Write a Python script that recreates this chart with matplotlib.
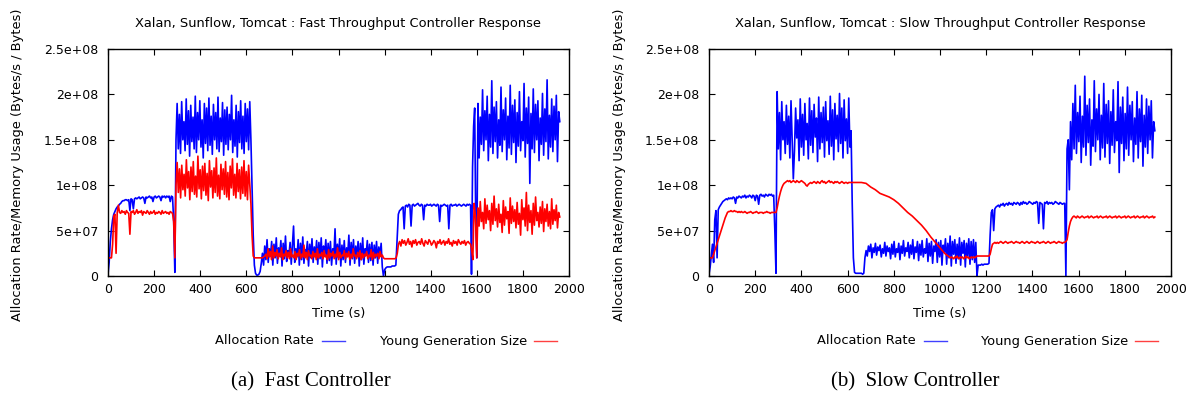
import numpy as np
import matplotlib
matplotlib.use("Agg")
import matplotlib.pyplot as plt
from matplotlib.lines import Line2D

plt.rcParams['font.family'] = ['DejaVu Sans']

# ---------------- data (values in units of 1e6 bytes or bytes/s) ----------------
# Each series is a list of (t_start, t_end, values) pieces.

# Fast controller - allocation rate
fast_alloc_warmup = [2,15,38,52,62,68,71,74,76,77,79,80,82,83,83,84,84,83,84,72,85,84,74,85,86,85,86,87,85,86,
                     87,86,80,87,86,87,88,86,87,82,87,88,86,87,88,87,83,88,87,88,86,88,87,88,82,88,87,60,4]
fast_alloc_xalan = [150,190,140,178,135,192,150,170,138,195,145,182,132,188,148,175,140,198,136,180,150,193,142,172,130,
                    190,146,185,138,196,144,176,134,189,150,180,140,197,137,174,148,191,133,183,145,186,139,178,150,199,
                    136,172,143,188,131,181,147,193,140,176,135,190,148,184,139,192]
fast_alloc_drop1 = [150,95,45,12,3,1,1,2,5,14]
fast_alloc_sunflow = [25,12,33,18,40,15,30,22,38,12,35,20,42,14,31,24,39,11,36,19,44,16,28,23,37,13,34,55,15,30,
                      21,40,12,36,18,43,14,29,25,38,11,35,20,41,15,32,22,39,13,37,19,42,10,33,24,40,14,36,17,38,
                      12,30,22,52,13,35,20,41,11,34,18,39,15,31,23,45,12,37,19,40,14,33,21,38,11,36,18,42,13,30,
                      24,39,15,35,17,37,12,34,20,38,14,32,22,36,10]
fast_alloc_gap = [0,7,9,10,10,10,10,11,11,11,12,40,68,72]
fast_alloc_tomcat = [73,75,76,52,77,78,76,79,78,55,78,79,77,78,79,80,78,77,79,78,62,78,77,79,78,78,79,77,78,79,
                     78,77,79,78,60,78,77,78,79,78,77,78,52,78,79,77,78,78,79,77,78,79,78,77,78,79,78,77,79,78,79,78]
fast_alloc_switch = [2,120,165,185,60,20]
fast_alloc_xalan2 = [190,130,175,145,205,138,182,150,198,127,178,142,215,135,186,148,192,130,172,144,208,137,183,150,196,
                     128,176,141,210,134,188,147,194,125,180,143,203,138,170,149,212,131,185,146,197,102,179,140,206,136,
                     189,150,193,127,174,145,201,133,184,148,216,129,177,142,195,137,187,150,199,126,181,170]
fast_alloc = [(0, 290, fast_alloc_warmup), (295, 615, fast_alloc_xalan), (620, 665, fast_alloc_drop1),
              (670, 1190, fast_alloc_sunflow), (1195, 1265, fast_alloc_gap), (1270, 1573, fast_alloc_tomcat),
              (1577, 1600, fast_alloc_switch), (1605, 1960, fast_alloc_xalan2)]

# Fast controller - young generation size
fast_young_warmup = [20,20,20,20,35,66,68,25,70,78,70,69,72,70,71,68,72,70,69,46,71,70,72,68,70,73,69,71,70,72,
                     67,71,70,69,72,70,68,71,69,70,72,68,70,69,71,70,68,72,69,70,71,69,70,68,71,70,69,60,20]
fast_young_xalan = [100,125,92,118,86,122,95,112,88,128,97,115,84,120,93,126,90,110,87,132,96,117,85,121,94,124,89,113,
                    83,127,98,116,86,119,92,130,88,111,85,123,95,118,90,126,87,114,84,121,97,129,89,112,86,124,93,117,
                    85,120,91,127,88,115,84,122,100]
fast_young_drop1 = [80,45,22,20,20,20,20,20,20,20,20,21,22]
fast_young_sunflow = [24,19,30,21,27,18,33,20,26,22,29,19,25,21,31,18,24,22,28,20,26,19,30,21,23,20,27,18,25,22,
                      29,19,24,21,34,20,26,18,28,22,23,19,27,21,25,18,30,20,24,22,26,19,28,21,23,18,29,20,25,22,
                      27,19,24,21,31,18,26,20,23,22,28,19,25,21,27,18,24,20,30,22,23,19,26,21,28,18,25,20,24,22,
                      27,19,23,21,29,18,26,20,24,22,25,19,27,21,23,20]
fast_young_gap = [19,19,19,19,19,19,19,19,19,19,20,25]
fast_young_tomcat = [35,38,33,40,36,39,34,37,41,35,38,32,39,36,40,34,37,38,35,41,36,33,39,37,35,40,38,34,36,39,
                     37,31,38,36,40,35,37,39,34,38,36,41,35,37,33,39,36,38,34,40,37,35,38,36,39,34,37,38,36,35]
fast_young_switch = [30,18,80,65,20]
fast_young_xalan2 = [75,55,82,60,70,52,85,58,78,62,72,50,80,57,88,61,74,54,79,59,68,48,83,56,76,63,71,47,86,58,
                     77,60,73,53,81,57,69,45,84,62,75,55,92,50,78,59,72,46,80,56,87,61,70,54,76,58,82,49,74,60,
                     79,55,71,52,85,57,73,61,78,53,70,65]
fast_young = [(0, 290, fast_young_warmup), (295, 615, fast_young_xalan), (620, 680, fast_young_drop1),
              (685, 1195, fast_young_sunflow), (1200, 1255, fast_young_gap), (1260, 1573, fast_young_tomcat),
              (1577, 1600, fast_young_switch), (1605, 1960, fast_young_xalan2)]

# Slow controller - allocation rate
slow_alloc_warmup = [2,10,22,35,15,62,72,20,73,76,78,80,82,83,84,85,84,86,85,86,85,87,86,80,87,86,88,87,86,88,
                     87,89,86,88,87,89,88,86,89,88,83,89,88,79,89,90,88,89,87,90,89,88,90,89,90,88,89,50,3]
slow_alloc_xalan = [203,140,180,128,192,150,170,135,188,145,176,130,193,148,107,138,185,152,172,127,195,142,178,133,190,
                    150,168,129,196,144,182,136,189,153,174,126,197,140,180,147,186,131,192,149,171,134,198,143,183,128,
                    190,151,177,137,201,146,185,130,194,149,173,135,196,142,160]
slow_alloc_drop1 = [80,20,4,3,3,3,3,3,3,2,3]
slow_alloc_sunflow = [20,28,22,33,27,35,20,31,26,36,23,32,28,34,21,30,25,37,22,33,27,31,19,35,24,38,21,30,26,36,
                      18,33,25,39,22,31,27,37,20,34,24,40,19,32,26,38,17,35,23,39,21,30,25,41,16,36,22,38,14,33,
                      27,40,15,37,21,39,12,34,26,41,13,36,20,44,11,38,24,40,14,35,19,42,12,37,25,39,10,36,22,41,
                      13,38,18,40,15,37]
slow_alloc_gap = [0,12,12,12,13,12,13,13,13,13,14]
slow_alloc_tomcat = [45,70,73,50,74,76,77,78,76,79,78,80,77,79,80,78,81,79,80,78,81,80,79,81,80,78,81,79,82,80,
                     81,79,80,82,81,80,79,81,80,82,81,58,81,80,79,52,81,80,82,79,81,80,81,79,80,82,81,80,79,81,
                     80,79,80]
slow_alloc_switch = [80,0,140,150,95]
slow_alloc_xalan2 = [170,128,190,140,210,135,180,148,198,125,176,142,220,133,188,147,195,122,172,143,215,137,184,150,200,
                     128,177,141,212,131,189,146,193,124,181,144,205,136,170,149,214,114,186,146,197,127,179,140,208,133,
                     188,150,192,126,174,145,203,130,184,148,199,121,177,142,195,135,187,150,193,130,170,160]
slow_alloc = [(0, 290, slow_alloc_warmup), (295, 615, slow_alloc_xalan), (620, 670, slow_alloc_drop1),
              (675, 1155, slow_alloc_sunflow), (1160, 1212, slow_alloc_gap), (1217, 1535, slow_alloc_tomcat),
              (1540, 1560, slow_alloc_switch), (1565, 1930, slow_alloc_xalan2)]

# Slow controller - young generation size
slow_young_warmup = [20,20,20,20,24,28,32,36,40,44,48,52,56,60,64,67,70,71,71,72,71,71,72,71,71,70,71,70,71,70,
                     70,71,70,69,70,70,71,70,69,70,70,71,70,69,70,70,70,69,70,70,71,70,70,69,70,70,70,70,70]
slow_young_xalan = [75,82,88,93,97,100,102,103,104,105,104,105,103,104,105,104,103,105,104,103,104,105,104,103,102,
                    100,99,101,102,103,102,103,104,103,102,104,103,102,104,105,103,104,102,103,104,105,103,104,103,102,
                    104,103,104,103,102,103,104,103,102,103,103,102,103,103,103]
slow_young_decay = [103,103,103,102,98,95,91,89,87,84,80,75,70,66,61,56,50,43,37,31,25,21]
slow_young_sunflow = [20,21,20,19,21,20,22,20,19,21,20,21,19,20,22,20,21,19,20,21,20,21,20,21]
slow_young_gap = [22,22,22,22,22,22,22,22,22,22,22]
slow_young_tomcat = [24,30,35,36,37,36,37,36,37,38,37,36,37,38,37,36,37,37,38,37,36,37,38,37,37,36,37,38,37,36,
                     37,38,37,36,37,38,37,37,36,37,38,37,36,37,37,38,37,36,37,38,37,36,37,37,38,37,36,37,38,37,
                     37,36,37,37,38]
slow_young_xalan2 = [40,48,55,60,63,65,66,65,64,66,65,64,65,66,65,64,65,65,66,64,65,66,65,64,65,65,66,64,65,66,
                     65,64,65,65,66,64,65,66,65,64,65,65,66,64,65,66,65,64,65,65,66,64,65,66,65,64,65,65,66,64,
                     65,66,65,64,65,65,66,64,65,66,65,64,65,65,66,64,65]
slow_young = [(0, 290, slow_young_warmup), (295, 615, slow_young_xalan), (620, 1040, slow_young_decay),
              (1045, 1155, slow_young_sunflow), (1160, 1212, slow_young_gap), (1217, 1545, slow_young_tomcat),
              (1550, 1930, slow_young_xalan2)]

titles = ["Xalan, Sunflow, Tomcat : Fast Throughput Controller Response",
          "Xalan, Sunflow, Tomcat : Slow Throughput Controller Response"]
captions = ["(a)  Fast Controller", "(b)  Slow Controller"]
series_names = ["Allocation Rate", "Young Generation Size"]
ylabel = "Allocation Rate/Memory Usage (Bytes/s / Bytes)"
xlabel = "Time (s)"
xticks = [0, 200, 400, 600, 800, 1000, 1200, 1400, 1600, 1800, 2000]
yticks = [0, 5e7, 1e8, 1.5e8, 2e8, 2.5e8]
ytick_labels = ["0", "5e+07", "1e+08", "1.5e+08", "2e+08", "2.5e+08"]


def build(pieces):
    ts, vs = [], []
    for t0, t1, vals in pieces:
        ts.append(np.linspace(t0, t1, len(vals)))
        vs.append(np.asarray(vals, dtype=float) * 1e6)
    return np.concatenate(ts), np.concatenate(vs)


W, H = 1193, 398
fig = plt.figure(figsize=(W / 100, H / 100), dpi=100)

BLUE = "#0000ff"
RED = "#ff0000"
FS = 9.4
TFS = 9.0

panels = [
    dict(left=108, right=569, alloc=fast_alloc, young=fast_young, ylab_x=18,
         leg1=314, leg2=527, cap_x=311),
    dict(left=709, right=1171, alloc=slow_alloc, young=slow_young, ylab_x=619,
         leg1=916, leg2=1128, cap_x=915),
]
top, bottom = 49, 276

for i, p in enumerate(panels):
    ax = fig.add_axes([p['left'] / W, 1 - bottom / H, (p['right'] - p['left']) / W, (bottom - top) / H])
    t, v = build(p['alloc'])
    ax.plot(t, v, color=BLUE, lw=1.2)
    t, v = build(p['young'])
    ax.plot(t, v, color=RED, lw=1.2)
    ax.set_xlim(0, 2000)
    ax.set_ylim(0, 2.5e8)
    ax.set_xticks(xticks)
    ax.set_xticklabels([str(x) for x in xticks])
    ax.set_yticks(yticks)
    ax.set_yticklabels(ytick_labels)
    ax.tick_params(direction='in', top=True, right=True, length=4.5, width=0.8,
                   labelsize=TFS, color='black')
    ax.tick_params(axis='x', pad=5)
    ax.tick_params(axis='y', pad=7)
    for s in ax.spines.values():
        s.set_linewidth(1.0)
        s.set_color('black')
    cx = (p['left'] + p['right']) / 2
    fig.text(cx / W, 1 - 24 / H, titles[i], ha='center', va='center', fontsize=FS)
    fig.text(cx / W, 1 - 313 / H, xlabel, ha='center', va='center', fontsize=FS)
    fig.text(p['ylab_x'] / W, 1 - 165 / H, ylabel, rotation=90, ha='center', va='center', fontsize=FS)
    # legend (gnuplot style: label then sample)
    ly = 1 - 341 / H
    fig.text(p['leg1'] / W, ly, series_names[0], ha='right', va='center', fontsize=FS)
    fig.add_artist(Line2D([(p['leg1'] + 8) / W, (p['leg1'] + 31) / W], [ly, ly],
                          transform=fig.transFigure, color=BLUE, lw=1.0, alpha=0.75))
    fig.text(p['leg2'] / W, ly, series_names[1], ha='right', va='center', fontsize=FS)
    fig.add_artist(Line2D([(p['leg2'] + 7) / W, (p['leg2'] + 30) / W], [ly, ly],
                          transform=fig.transFigure, color=RED, lw=1.0, alpha=0.75))
    fig.text(p['cap_x'] / W, 1 - 382 / H, captions[i], ha='center', va='center',
             fontsize=15.0, family=['Liberation Serif', 'DejaVu Serif'])

fig.savefig("out.png", dpi=100)
